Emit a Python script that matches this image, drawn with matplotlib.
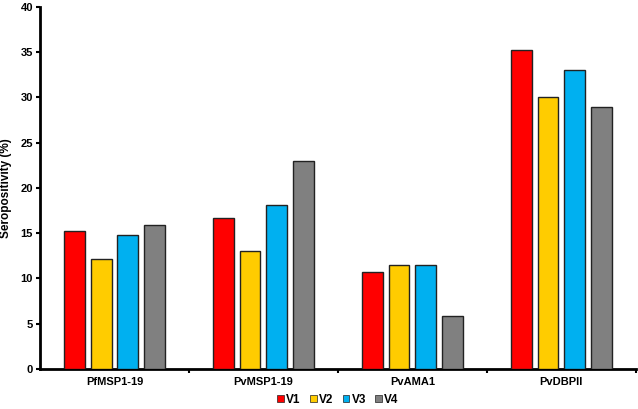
import numpy as np
import matplotlib.pyplot as plt

antigens = ["PfMSP1-19", "PvMSP1-19", "PvAMA1", "PvDBPII"]
visits = ["V1", "V2", "V3", "V4"]
v1 = [15.2, 16.7, 10.7, 35.2]
v2 = [12.2, 13.0, 11.5, 30.0]
v3 = [14.8, 18.1, 11.5, 33.0]
v4 = [15.9, 23.0, 5.9, 28.9]
colors = ["#ff0000", "#ffcc00", "#00b0f0", "#808080"]

plt.rcParams['font.family'] = ['Liberation Sans', 'DejaVu Sans']
plt.rcParams['font.weight'] = 'bold'

fig = plt.figure(figsize=(6.38, 4.09), dpi=100)
ax = fig.add_axes([0.0627, 0.098, 0.934, 0.885])

x = np.arange(len(antigens))
width = 0.14
step = 0.18
for i, (vals, col, lab) in enumerate(zip([v1, v2, v3, v4], colors, visits)):
    ax.bar(x + (i - 1.5) * step, vals, width, color=col, edgecolor="#222222",
           linewidth=1, label=lab, zorder=3)

ax.set_xlim(-0.5, len(antigens) - 0.5)
ax.set_ylim(0, 40)
ax.set_yticks(range(0, 41, 5))
ax.set_xticks(x)
ax.set_xticklabels(antigens, fontsize=8, fontweight='bold')
ax.tick_params(axis='x', length=0, pad=6)
ax.set_xticks(np.arange(-0.5, len(antigens), 1.0)[1:], minor=True)
ax.tick_params(axis='x', which='minor', length=3, width=1.5, direction='out')
ax.tick_params(axis='y', length=3, width=1.5, labelsize=8, pad=2)
for lbl in ax.get_yticklabels():
    lbl.set_fontweight('bold')
ax.set_ylabel("Seropositivity (%)", fontsize=8.5, fontweight='bold', labelpad=6)

for s in ['top', 'right']:
    ax.spines[s].set_visible(False)
for s in ['left', 'bottom']:
    ax.spines[s].set_linewidth(2)

leg = ax.legend(loc='upper center', bbox_to_anchor=(0.5, -0.055), ncol=4,
                frameon=False, fontsize=8.5, handlelength=0.55, handleheight=0.55,
                handletextpad=0.2, columnspacing=0.8, borderaxespad=0)
for h in leg.legend_handles:
    h.set_linewidth(0.5)

fig.savefig("out.png", dpi=100)
